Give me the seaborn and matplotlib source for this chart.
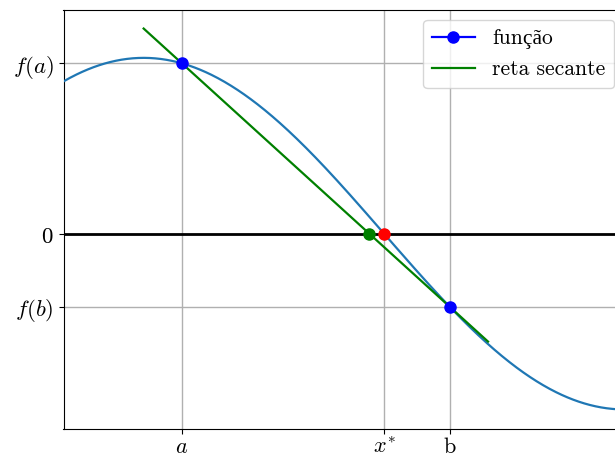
import numpy as np
import pandas as pd
import matplotlib
matplotlib.use("Agg")
import matplotlib.pyplot as plt
from matplotlib.lines import Line2D
import seaborn as sns

plt.rcParams["mathtext.fontset"] = "cm"
plt.rcParams["axes.unicode_minus"] = False

# Interval endpoints and the true root of f(x) = cos(x)
a = 0.25
b = 2.0
x_star = np.pi / 2
x_min, x_max = -np.pi / 6, np.pi
secant_ext = 0.25

x_tick_labels = [r"$a$", r"$x^{*}$", r"$\mathrm{b}$"]
y_tick_labels = [r"$f(a)$", r"$0$", r"$f(b)$"]
legend_labels = ["função", "reta secante"]


def f(x):
    return np.cos(x)


fa, fb = f(a), f(b)
slope = (fb - fa) / (b - a)
x_secant_root = a - fa / slope

curve = pd.DataFrame({"x": np.linspace(x_min, x_max, 600)})
curve["y"] = f(curve["x"])
secant = pd.DataFrame({"x": [a - secant_ext, b + secant_ext]})
secant["y"] = fa + slope * (secant["x"] - a)

fig = plt.figure(figsize=(6.15, 4.58), dpi=100)
ax = fig.add_axes([63.5 / 615, 29.5 / 458, 561 / 615, 419 / 458])

sns.lineplot(data=curve, x="x", y="y", ax=ax, color="C0", lw=1.6, zorder=3)
sns.lineplot(data=secant, x="x", y="y", ax=ax, color="green", lw=1.6, zorder=4)
ax.axhline(0, color="black", lw=2, zorder=2)

ax.plot([a, b], [fa, fb], "o", color="blue", ms=8, zorder=5)
ax.plot([x_secant_root], [0], "o", color="green", ms=8, zorder=5)
ax.plot([x_star], [0], "o", color="red", ms=8, zorder=6)

ax.set_xlim(x_min, x_max)
ax.set_xticks([a, x_star, b])
ax.set_xticklabels(x_tick_labels, fontsize=16)
ax.set_yticks([fa, 0, fb])
ax.set_yticklabels(y_tick_labels, fontsize=16.5)
ax.tick_params(axis="x", pad=2.5)
ax.set_xlabel("")
ax.set_ylabel("")
ax.grid(True, color="#b0b0b0", lw=1.0)
ax.set_axisbelow(True)

handles = [
    Line2D([], [], color="blue", marker="o", lw=1.6, ms=8),
    Line2D([], [], color="green", lw=1.6),
]
ax.legend(handles, legend_labels, loc="upper right", borderaxespad=0,
          bbox_to_anchor=(614 / 615, 1 - 20 / 458), bbox_transform=fig.transFigure,
          prop={"family": ["cmr10", "Liberation Serif"], "size": 15.5})

fig.savefig("out.png", dpi=100)
